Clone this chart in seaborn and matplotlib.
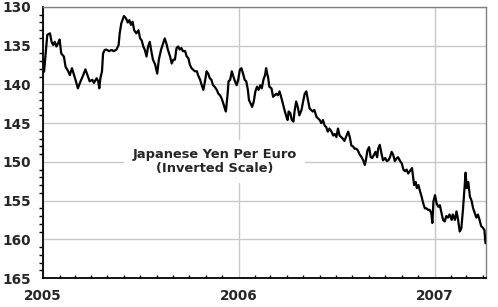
import matplotlib
matplotlib.use("Agg")
import matplotlib.pyplot as plt
import matplotlib.dates as mdates
import matplotlib.ticker as mticker
import pandas as pd
import seaborn as sns

dates = [
    "2005-01-03", "2005-01-05", "2005-01-09", "2005-01-14", "2005-01-17", "2005-01-20",
    "2005-01-23", "2005-01-26", "2005-01-29", "2005-02-01", "2005-02-04", "2005-02-09",
    "2005-02-12", "2005-02-17", "2005-02-20", "2005-02-24", "2005-02-28", "2005-03-03",
    "2005-03-07", "2005-03-12", "2005-03-17", "2005-03-21", "2005-03-25", "2005-03-29",
    "2005-04-03", "2005-04-06", "2005-04-11", "2005-04-14", "2005-04-16", "2005-04-18",
    "2005-04-21", "2005-04-23", "2005-04-26", "2005-04-29", "2005-05-04", "2005-05-09",
    "2005-05-13", "2005-05-18", "2005-05-22", "2005-05-24", "2005-05-27", "2005-06-01",
    "2005-06-05", "2005-06-08", "2005-06-11", "2005-06-14", "2005-06-17", "2005-06-20",
    "2005-06-24", "2005-06-28", "2005-07-01", "2005-07-04", "2005-07-07", "2005-07-10",
    "2005-07-13", "2005-07-16", "2005-07-19",
    "2005-07-22", "2005-07-25", "2005-07-29", "2005-08-02", "2005-08-05", "2005-08-09",
    "2005-08-13", "2005-08-16", "2005-08-19", "2005-08-22", "2005-08-26", "2005-08-29",
    "2005-09-01", "2005-09-04", "2005-09-07", "2005-09-10", "2005-09-13", "2005-09-16",
    "2005-09-19", "2005-09-23", "2005-09-26", "2005-09-29", "2005-10-02", "2005-10-05",
    "2005-10-08", "2005-10-11", "2005-10-15", "2005-10-17", "2005-10-21", "2005-10-24",
    "2005-10-27", "2005-10-30", "2005-11-02", "2005-11-05", "2005-11-08", "2005-11-11",
    "2005-11-14", "2005-11-17", "2005-11-21", "2005-11-24", "2005-11-27", "2005-11-30",
    "2005-12-03", "2005-12-06", "2005-12-08", "2005-12-11", "2005-12-13", "2005-12-16",
    "2005-12-19", "2005-12-22", "2005-12-25", "2005-12-28", "2005-12-31",
    "2006-01-03", "2006-01-06", "2006-01-09", "2006-01-12", "2006-01-15", "2006-01-18",
    "2006-01-20", "2006-01-26", "2006-01-29", "2006-02-01", "2006-02-04", "2006-02-07",
    "2006-02-10", "2006-02-13", "2006-02-16", "2006-02-19", "2006-02-21", "2006-02-23",
    "2006-02-25", "2006-02-27", "2006-03-03", "2006-03-06", "2006-03-09", "2006-03-12",
    "2006-03-15", "2006-03-18", "2006-03-21", "2006-03-24", "2006-03-28", "2006-03-31",
    "2006-04-02", "2006-04-04", "2006-04-07", "2006-04-10", "2006-04-13", "2006-04-15",
    "2006-04-18", "2006-04-21", "2006-04-24", "2006-04-28", "2006-05-01", "2006-05-04",
    "2006-05-07", "2006-05-10", "2006-05-13", "2006-05-16", "2006-05-19", "2006-05-22",
    "2006-05-26", "2006-05-29", "2006-06-01", "2006-06-04", "2006-06-07", "2006-06-10",
    "2006-06-13", "2006-06-16", "2006-06-19", "2006-06-23", "2006-06-26", "2006-06-29",
    "2006-07-02", "2006-07-05", "2006-07-08", "2006-07-11", "2006-07-14", "2006-07-17",
    "2006-07-21", "2006-07-24", "2006-07-27", "2006-07-30", "2006-08-02", "2006-08-05",
    "2006-08-08", "2006-08-11", "2006-08-14", "2006-08-18", "2006-08-21", "2006-08-24",
    "2006-08-26", "2006-08-29", "2006-09-01",
    "2006-09-04", "2006-09-07", "2006-09-10", "2006-09-13", "2006-09-16", "2006-09-18",
    "2006-09-21", "2006-09-24", "2006-09-27", "2006-10-01", "2006-10-04", "2006-10-07",
    "2006-10-10", "2006-10-13", "2006-10-16", "2006-10-19", "2006-10-23", "2006-10-25",
    "2006-10-29", "2006-11-01", "2006-11-04", "2006-11-07", "2006-11-10", "2006-11-13",
    "2006-11-16", "2006-11-20", "2006-11-22", "2006-11-24", "2006-11-27", "2006-11-29",
    "2006-12-02", "2006-12-05", "2006-12-08", "2006-12-10", "2006-12-12", "2006-12-14",
    "2006-12-17", "2006-12-20", "2006-12-23", "2006-12-26", "2006-12-28", "2006-12-30",
    "2007-01-02", "2007-01-05", "2007-01-08", "2007-01-11", "2007-01-14", "2007-01-17",
    "2007-01-20", "2007-01-23", "2007-01-26", "2007-01-29", "2007-02-02", "2007-02-04",
    "2007-02-08", "2007-02-11", "2007-02-14", "2007-02-17", "2007-02-20", "2007-02-23",
    "2007-02-26", "2007-02-28", "2007-03-02", "2007-03-05", "2007-03-08", "2007-03-11",
    "2007-03-14", "2007-03-17", "2007-03-20", "2007-03-23", "2007-03-26", "2007-03-29",
    "2007-04-01", "2007-04-04", "2007-04-06",
]

yen_per_euro = [
    138.35, 136.8, 133.6, 133.4, 134.5, 134.9,
    134.5, 135.1, 134.7, 134.2, 136.0, 136.4,
    137.7, 138.3, 138.8, 137.9, 138.8, 139.5,
    140.5, 139.6, 138.8, 138.05, 138.8, 139.6,
    139.4, 139.8, 139.2, 139.6, 140.5, 139.2,
    138.3, 136.0, 135.55, 135.5, 135.7, 135.55,
    135.7, 135.5, 134.9, 133.4, 132.1, 131.16,
    131.5, 132.0, 131.7, 132.3, 131.9, 133.0,
    133.4, 133.0, 134.05, 134.3, 135.1, 135.55,
    136.4, 135.1, 134.5,
    135.7, 136.8, 137.4, 138.6, 136.8, 135.55,
    134.7, 134.05, 134.7, 135.55, 136.4, 137.3,
    136.8, 136.8, 135.3, 135.1, 135.5, 135.3,
    135.7, 135.7, 136.4, 136.6, 137.5, 137.9,
    138.1, 138.3, 138.3, 138.8, 139.4, 140.1,
    140.7, 139.6, 138.3, 138.6, 139.2, 139.4,
    140.1, 140.3, 140.7, 141.2, 141.4, 141.8,
    142.4, 143.1, 143.5, 141.4, 139.6, 139.4,
    138.3, 139.0, 139.6, 140.1, 139.4,
    138.1, 137.9, 138.6, 139.4, 139.6, 140.7,
    142.0, 142.9, 142.2, 140.9, 140.3, 140.7,
    140.1, 140.5, 139.4, 138.8, 137.9, 138.6,
    139.2, 140.3, 140.5, 141.6, 141.4, 141.2,
    141.4, 140.9, 141.6, 142.4, 143.5, 144.2,
    144.6, 143.5, 143.7, 144.6, 144.8, 143.5,
    142.2, 142.9, 144.0, 143.3, 142.2, 141.2,
    140.9, 142.0, 143.1, 143.3, 143.5, 143.3,
    144.2, 144.4, 144.6, 145.0, 144.6, 145.3,
    145.5, 146.1, 145.7, 146.1, 146.6, 146.4,
    146.8, 145.7, 146.6, 146.8, 147.0, 147.3,
    146.6, 146.1, 146.8, 147.9, 148.0, 148.3,
    148.3, 148.5, 149.0, 149.4, 149.8, 150.4,
    149.8, 148.5, 148.1,
    149.4, 149.5, 149.1, 148.7, 149.4, 148.3,
    147.8, 148.9, 149.8, 149.5, 149.9, 149.8,
    149.4, 148.7, 149.1, 149.9, 149.5, 149.4,
    149.9, 150.2, 151.0, 151.2, 151.0, 151.5,
    151.2, 150.8, 151.9, 153.0, 152.6, 153.4,
    153.0, 153.8, 154.5, 155.1, 155.6, 156.0,
    156.0, 156.2, 156.2, 156.6, 157.9, 155.1,
    154.3, 155.4, 155.8, 155.6, 156.6, 157.5,
    157.7, 157.0, 157.2, 156.8, 157.5, 156.8,
    157.5, 156.4, 157.5, 159.0, 158.6, 156.2,
    153.4, 151.4, 153.4, 152.6, 154.5, 155.0,
    156.0, 156.6, 157.2, 156.8, 157.5, 158.3,
    158.5, 158.8, 160.5,
]

y_ticks = [130, 135, 140, 145, 150, 155, 160, 165]
x_range = ["2005-01-01", "2007-04-07"]
title_text = "Japanese Yen Per Euro\n(Inverted Scale)"

df = pd.DataFrame({"date": pd.to_datetime(dates), "rate": yen_per_euro})

sns.set_style("white")
plt.rcParams["font.family"] = ["DejaVu Sans"]

fig = plt.figure(figsize=(4.98, 3.07), dpi=100)
ax = fig.add_axes([43 / 498, 1 - 278 / 307, (486 - 43) / 498, (278 - 7) / 307])

sns.lineplot(data=df, x="date", y="rate", ax=ax, color="black", linewidth=1.6,
             estimator=None, zorder=3)

ax.set_xlim(pd.to_datetime(x_range[0]), pd.to_datetime(x_range[1]))
ax.set_ylim(y_ticks[-1], y_ticks[0])  # inverted scale
ax.set_yticks(y_ticks)
ax.yaxis.set_minor_locator(mticker.MultipleLocator(1))
ax.xaxis.set_major_locator(mdates.YearLocator())
ax.xaxis.set_major_formatter(mdates.DateFormatter("%Y"))
ax.xaxis.set_minor_locator(mdates.MonthLocator())

ax.set_xlabel("")
ax.set_ylabel("")

ax.grid(True, which="major", color="#c8c8c8", linewidth=1.0, zorder=0)
ax.set_axisbelow(True)

for side in ["left", "bottom"]:
    ax.spines[side].set_color("black")
    ax.spines[side].set_linewidth(1.3)
for side in ["top", "right"]:
    ax.spines[side].set_color("#808080")
    ax.spines[side].set_linewidth(1.0)

ax.tick_params(axis="y", which="major", direction="out", length=4.5, width=1.1,
               color="black", pad=4, labelsize=9.8)
ax.tick_params(axis="y", which="minor", direction="out", length=3, width=1.0,
               color="black", left=True)
ax.tick_params(axis="x", which="major", direction="inout", length=6, width=1.1,
               color="black", pad=5, labelsize=9.8)
ax.tick_params(axis="x", which="minor", direction="in", length=2.5, width=1.0,
               color="black", bottom=True)
for lab in ax.get_xticklabels() + ax.get_yticklabels():
    lab.set_fontweight("bold")

ax.text(0.388, 0.43, title_text, transform=ax.transAxes, ha="center", va="center",
        fontsize=9.4, fontweight="bold", linespacing=1.05, zorder=4,
        bbox=dict(facecolor="white", edgecolor="none", pad=6))

fig.savefig("out.png", dpi=100)
